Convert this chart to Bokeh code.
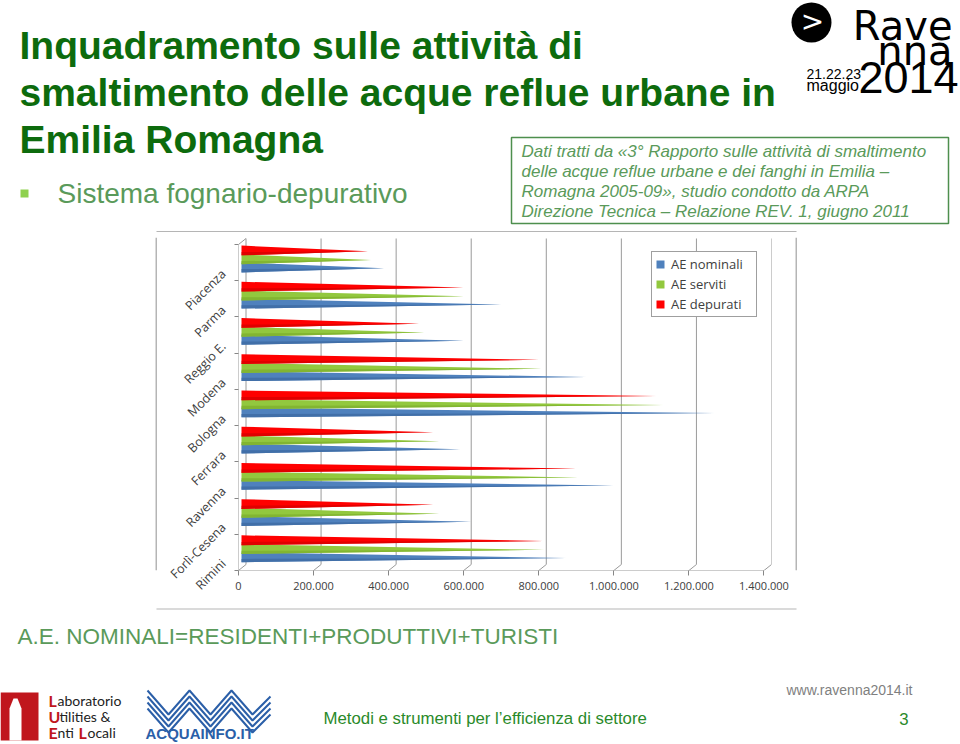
import math
from bokeh.plotting import figure
from bokeh.models import Range1d, FixedTicker, Legend, LegendItem
from bokeh.layouts import column, row
from bokeh.embed import file_html
from bokeh.resources import INLINE
from bokeh.core.properties import value

# ---------------- data ----------------
cities = ["Piacenza", "Parma", "Reggio E.", "Modena", "Bologna",
          "Ferrara", "Ravenna", "Forlì-Cesena", "Rimini"]
ae_nominali = [368000, 680000, 581000, 907000, 1248000, 571000, 979000, 600000, 853000]
ae_serviti = [333000, 581000, 475000, 787000, 1112000, 515000, 885000, 515000, 795000]
ae_depurati = [325000, 579000, 461000, 781000, 1093000, 499000, 880000, 499000, 792000]
series_names = ["AE nominali", "AE serviti", "AE depurati"]
series_colors = ["#4f81bd", "#92c83e", "#ff0000"]
series_shade = ["#3d6aa3", "#7eb02e", "#d80000"]
x_ticks = [0, 200000, 400000, 600000, 800000, 1000000, 1200000, 1400000]
x_tick_labels = ["0", "200.000", "400.000", "600.000", "800.000",
                 "1.000.000", "1.200.000", "1.400.000"]

# ---------------- style constants ----------------
N = len(cities)
X_MAX = x_ticks[-1]
DX = 20000            # 3D depth offset (x, data units)
DY = 6 / 36.22        # 3D depth offset (y, category units)
TOP_PAD = 0.193
BASE_X = 8000
HALF = 0.135
band_center = [0.635, 0.41, 0.165]
GRID = "#9a9a9a"
AXIS = "#868686"
LBL = "#404040"
BORDER = "#b5b5b5"

TITLE_GREEN = "#0d6b0d"
SOFT_GREEN = "#5a9a5a"
FOOT_GREEN = "#2a8a2a"


def deco(w, h):
    f = figure(width=w, height=h, x_range=Range1d(0, w), y_range=Range1d(h, 0),
               output_backend="svg", toolbar_location=None, min_border=0,
               x_axis_location=None, y_axis_location=None,
               outline_line_color=None, background_fill_color="white",
               border_fill_color="white")
    f.grid.visible = False
    return f


def txt(f, x, y, s, size, color, font="Liberation Sans", style="normal",
        align="left", baseline="middle"):
    f.text(x=[x], y=[y], text=[s], text_font=value(font),
           text_font_size=f"{size}px", text_color=color,
           text_font_style=style, text_align=align, text_baseline=baseline)


# ---------------- top part ----------------
top = deco(960, 232)
title_lines = ["Inquadramento sulle attività di",
               "smaltimento delle acque reflue urbane in",
               "Emilia Romagna"]
for k, line in enumerate(title_lines):
    txt(top, 19, 45 + 47 * k, line, 39, TITLE_GREEN, style="bold")
top.quad(left=[20], right=[28], top=[189], bottom=[197], fill_color="#8fd14f", line_color=None)
txt(top, 57, 193, "Sistema fognario-depurativo", 28, SOFT_GREEN)

# source box
top.quad(left=[511], right=[948], top=[137], bottom=[223], fill_color="white",
         line_color="#4e8f4e", line_width=1.5)
box_lines = ["Dati tratti da «3° Rapporto sulle attività di smaltimento",
             "delle acque reflue urbane e dei fanghi in Emilia –",
             "Romagna 2005-09», studio condotto da ARPA",
             "Direzione Tecnica – Relazione REV. 1, giugno 2011"]
for k, line in enumerate(box_lines):
    txt(top, 521, 151 + 20 * k, line, 17, SOFT_GREEN, style="italic")

# Ravenna 2014 logo
top.circle(x=[811], y=[22], radius=20, fill_color="black", line_color=None)
txt(top, 812, 21, ">", 28, "white", font="DejaVu Sans", align="center")
txt(top, 952, 25, "Rave", 40, "black", font="DejaVu Sans", align="right")
txt(top, 952, 50, "nna", 40, "black", font="DejaVu Sans", align="right")
txt(top, 958, 77, "2014", 45, "black", align="right")
txt(top, 806, 73, "21.22.23", 14, "black")
txt(top, 806, 85, "maggio", 16, "black")

# chart border (top edge)
top.segment(x0=[156], y0=[231.5], x1=[796], y1=[231.5], line_color=BORDER, line_width=2)

# ---------------- chart ----------------
chart = figure(width=638, height=376,
               x_range=Range1d(0, X_MAX + DX), y_range=Range1d(N, -TOP_PAD),
               output_backend="svg", toolbar_location=None,
               min_border_left=81, min_border_right=24,
               min_border_top=5, min_border_bottom=38,
               outline_line_color=None, background_fill_color="white",
               border_fill_color="white")
chart.xgrid.visible = False
chart.ygrid.visible = False

# 3D walls / gridlines
gx0, gy0, gx1, gy1 = [], [], [], []
for v in x_ticks:
    gx0 += [v, v + DX]
    gy0 += [N, N - DY]
    gx1 += [v + DX, v + DX]
    gy1 += [N - DY, -DY]
gx0 += [0, 0, 0]
gy0 += [0, N, 0]
gx1 += [0, X_MAX, DX]
gy1 += [N, N, -DY]
chart.segment(x0=gx0, y0=gy0, x1=gx1, y1=gy1, line_color=GRID, line_width=1)

# cone-like bars
series_values = [ae_nominali, ae_serviti, ae_depurati]
renderers = []
for k in range(3):
    xs, ys, sxs, sys_ = [], [], [], []
    for i, v in enumerate(series_values[k]):
        c = i + band_center[k]
        xs.append([BASE_X, BASE_X, v + DX])
        ys.append([c - HALF, c + HALF, c + 0.02])
        sxs.append([BASE_X, BASE_X, v + DX])
        sys_.append([c + 0.045, c + HALF, c + 0.02])
    r = chart.patches(xs, ys, fill_color=series_colors[k], line_color=None)
    chart.patches(sxs, sys_, fill_color=series_shade[k], line_color=None, fill_alpha=0.8)
    renderers.append(r)

# x axis
xa = chart.xaxis[0]
xa.ticker = FixedTicker(ticks=x_ticks)
xa.major_label_overrides = {t: s for t, s in zip(x_ticks, x_tick_labels)}
xa.axis_line_color = None
xa.major_tick_line_color = AXIS
xa.major_tick_out = 5
xa.major_tick_in = 0
xa.major_label_text_font = "Open Sans"
xa.major_label_text_font_size = "11px"
xa.major_label_text_color = LBL
xa.major_label_standoff = 6

# y axis (categories)
label_pos = [i + 0.75 for i in range(N)]
ya = chart.yaxis[0]
ya.ticker = FixedTicker(ticks=label_pos, minor_ticks=list(range(N + 1)))
ya.major_label_overrides = {p: c for p, c in zip(label_pos, cities)}
ya.axis_line_color = None
ya.major_tick_line_color = None
ya.minor_tick_line_color = AXIS
ya.minor_tick_out = 4
ya.minor_tick_in = 0
ya.major_label_orientation = math.pi / 4
ya.major_label_text_font = "Open Sans"
ya.major_label_text_font_size = "12.5px"
ya.major_label_text_color = LBL
ya.major_label_standoff = 9

legend = Legend(items=[LegendItem(label=series_names[k], renderers=[renderers[k]]) for k in range(3)],
                location="top_right", margin=14, padding=3, spacing=2,
                glyph_width=10, glyph_height=10, label_standoff=6, label_width=82,
                label_text_font="Open Sans", label_text_font_size="13px",
                label_text_color=LBL, border_line_color="#404040",
                border_line_width=1, background_fill_color="white",
                background_fill_alpha=1)
chart.add_layout(legend)

# side fillers with chart border
left = deco(157, 376)
left.segment(x0=[156], y0=[0], x1=[156], y1=[376], line_color=BORDER, line_width=2)
right = deco(165, 376)
right.segment(x0=[0.5], y0=[0], x1=[0.5], y1=[376], line_color=BORDER, line_width=2)

# ---------------- bottom part ----------------
bottom = deco(960, 136)
bottom.segment(x0=[156], y0=[0], x1=[796], y1=[0], line_color=BORDER, line_width=2)
txt(bottom, 17, 28, "A.E. NOMINALI=RESIDENTI+PRODUTTIVI+TURISTI", 22.5, SOFT_GREEN)
txt(bottom, 912, 81, "www.ravenna2014.it", 14, "#7f7f7f", align="right")
txt(bottom, 323, 110, "Metodi e strumenti per l’efficienza di settore", 16.8, FOOT_GREEN)
txt(bottom, 908, 110, "3", 16.8, FOOT_GREEN, align="right")

# LUE logo
bottom.quad(left=[0], right=[38], top=[84], bottom=[132], fill_color="#c0161d", line_color=None)
bottom.patch(x=[9, 9, 13, 17, 21, 21], y=[132, 100, 90, 90, 100, 132], fill_color="white", line_color=None)
txt(bottom, 48, 92, "L", 16, "#c0161d", font="Lato", style="bold")
txt(bottom, 57, 92, "aboratorio", 14, "#222222", font="Lato")
txt(bottom, 48, 108, "U", 16, "#c0161d", font="Lato", style="bold")
txt(bottom, 59, 108, "tilities &", 14, "#222222", font="Lato")
txt(bottom, 48, 124, "E", 16, "#c0161d", font="Lato", style="bold")
txt(bottom, 57, 124, "nti", 14, "#222222", font="Lato")
txt(bottom, 78, 124, "L", 16, "#c0161d", font="Lato", style="bold")
txt(bottom, 87, 124, "ocali", 14, "#222222", font="Lato")

# AcquaInfo logo
zx, zy = [], []
for j in range(4):
    off = j * 6
    zx.append([147, 168, 189, 210, 231, 252, 270])
    zy.append([82 + off, 106 + off, 82 + off, 106 + off, 82 + off, 106 + off, 88 + off])
bottom.multi_line(zx, zy, line_color="#2b5fa8", line_width=2)
txt(bottom, 145, 125, "ACQUAINFO.IT", 15, "#2b5fa8", style="bold")

layout = column(top, row(left, chart, right), bottom)
open("out.html", "w").write(file_html(layout, INLINE))
